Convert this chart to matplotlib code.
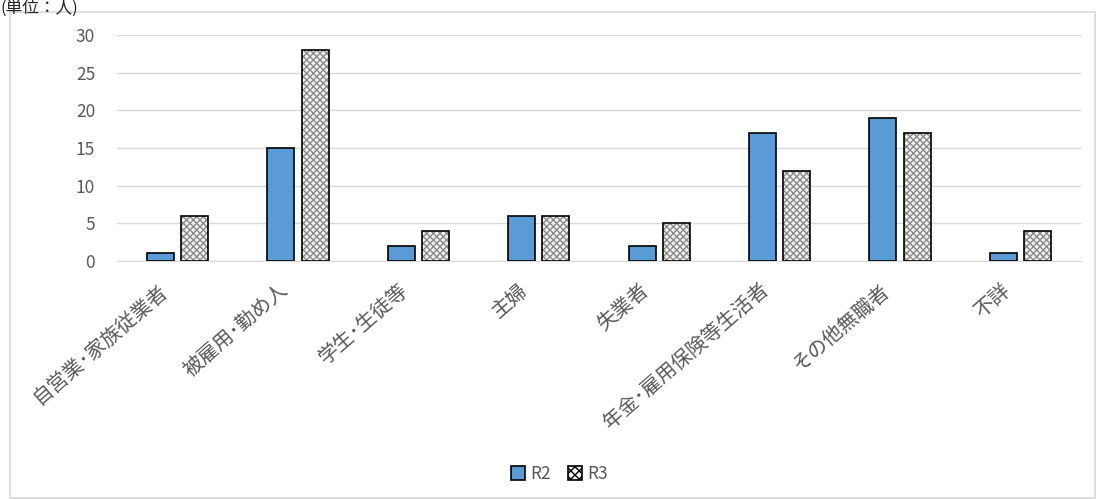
import numpy as np
import matplotlib.pyplot as plt
import matplotlib.transforms as mtransforms
from matplotlib.patches import Rectangle, Patch

plt.rcParams['font.family'] = ['Noto Sans CJK JP', 'DejaVu Sans']

# Categories and counts for the two years
categories = ['自営業･家族従業者', '被雇用･勤め人', '学生･生徒等', '主婦', '失業者',
              '年金･雇用保険等生活者', 'その他無職者', '不詳']
r2 = [1, 15, 2, 6, 2, 17, 19, 1]
r3 = [6, 28, 4, 6, 5, 12, 17, 4]

fig = plt.figure(figsize=(10.97, 4.99), dpi=100)
ax = fig.add_axes([0.107, 0.477, 0.878, 0.453])

x = np.arange(len(categories))
w = 0.225
off = 0.142
blue = '#5B9BD5'
txt = '#595959'

ax.bar(x - off, r2, w, color=blue, edgecolor='black', linewidth=1.2, zorder=3)
# hatched fill in gray, then black outline on top
ax.bar(x + off, r3, w, color='#f2f2f2', edgecolor='#8c8c8c', hatch='xxxxx',
       linewidth=0, zorder=3)
ax.bar(x + off, r3, w, color='none', edgecolor='black', linewidth=1.2, zorder=4)

ax.set_xlim(-0.5, len(categories) - 0.5)
ax.set_ylim(0, 30)
ax.set_yticks(range(0, 31, 5))
ax.grid(axis='y', color='#d9d9d9', linewidth=1, zorder=0)
for s in ['top', 'right', 'left']:
    ax.spines[s].set_visible(False)
ax.spines['bottom'].set_color('#d9d9d9')
ax.tick_params(axis='both', length=0, colors=txt, labelsize=12.5)
ax.tick_params(axis='y', pad=16)
ax.set_xticks(x)
ax.set_xticklabels(categories, rotation=41, ha='right', rotation_mode='anchor',
                   fontsize=14.5, color=txt)
shift = mtransforms.ScaledTranslation(-20 / 100, -14 / 100, fig.dpi_scale_trans)
for lab in ax.get_xticklabels():
    lab.set_transform(lab.get_transform() + shift)

# chart border
fig.patches.append(Rectangle((10 / 1097, 1 / 499), 1085 / 1097, 486 / 499,
                             transform=fig.transFigure, fill=False,
                             edgecolor='#d9d9d9', linewidth=1.2))
fig.text(0.0, 1.0, '(単位：人)', fontsize=12, color='#222222',
         va='top', ha='left')

handles = [Patch(facecolor=blue, edgecolor='black', linewidth=1.2),
           Patch(facecolor='#f2f2f2', edgecolor='black', hatch='xxxx', linewidth=1.2)]
fig.legend(handles, ['R2', 'R3'], loc='center', bbox_to_anchor=(0.51, 1 - 474 / 499),
           ncol=2, frameon=False, fontsize=12.5, labelcolor=txt,
           handlelength=0.8, handleheight=0.8, handletextpad=0.3, columnspacing=1.0)

fig.savefig('out.png', dpi=100)
